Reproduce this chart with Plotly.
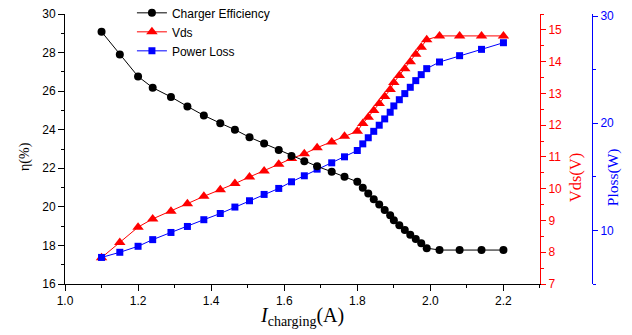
import plotly.graph_objects as go

current = [1.1, 1.15, 1.2, 1.24, 1.29, 1.335, 1.38, 1.425, 1.465, 1.505, 1.545, 1.585,
           1.62, 1.655, 1.69, 1.73, 1.765, 1.8,
           1.815, 1.83, 1.845, 1.86, 1.875, 1.89, 1.9, 1.915, 1.93, 1.945, 1.96, 1.975, 1.99,
           2.025, 2.08, 2.14, 2.2]
efficiency = [29.08, 27.9, 26.76, 26.18, 25.7, 25.21, 24.74, 24.34, 24.0, 23.61, 23.28, 22.95,
              22.64, 22.36, 22.1, 21.82, 21.56, 21.30,
              20.99, 20.69, 20.40, 20.12, 19.84, 19.57, 19.31, 19.05, 18.80, 18.56, 18.33, 18.11, 17.86,
              17.76, 17.76, 17.76, 17.76]
vds = [7.83, 8.31, 8.79, 9.05, 9.29, 9.53, 9.76, 9.97, 10.16, 10.37, 10.56, 10.77,
       10.95, 11.10, 11.29, 11.47, 11.65, 11.81,
       12.05, 12.25, 12.46, 12.68, 12.90, 13.12, 13.34, 13.56, 13.78, 14.0, 14.23, 14.45, 14.69,
       14.81, 14.81, 14.81, 14.81]
ploss = [7.48, 7.96, 8.52, 9.14, 9.81, 10.37, 11.0, 11.58, 12.18, 12.77, 13.36, 13.92,
         14.54, 15.1, 15.72, 16.31, 16.87, 17.46,
         18.08, 18.65, 19.25, 19.82, 20.41, 21.03, 21.62, 22.2, 22.77, 23.36, 23.98, 24.54, 25.1,
         25.72, 26.31, 26.9, 27.52]

SANS = "Liberation Sans, Arial, sans-serif"
SERIF = "Liberation Serif, Times New Roman, serif"

fig = go.Figure()
fig.add_trace(go.Scatter(x=current, y=efficiency, name="Charger Efficiency", yaxis="y3",
                         mode="lines+markers", line=dict(color="black", width=1),
                         marker=dict(symbol="circle", size=8, color="black")))
fig.add_trace(go.Scatter(x=current, y=vds, name="Vds", yaxis="y",
                         mode="lines+markers", line=dict(color="#ff0000", width=1),
                         marker=dict(symbol="triangle-up", size=10, color="#ff0000")))
fig.add_trace(go.Scatter(x=current, y=ploss, name="Power Loss", yaxis="y2",
                         mode="lines+markers", line=dict(color="#0000ff", width=1),
                         marker=dict(symbol="square", size=7, color="#0000ff")))

fig.update_layout(
    width=632, height=335,
    margin=dict(l=65, r=40, t=14, b=51, autoexpand=False),
    paper_bgcolor="white", plot_bgcolor="white",
    font=dict(family=SANS, size=12, color="black"),
    showlegend=True,
    legend=dict(x=0.127, y=1.058, xanchor="left", yanchor="top",
                bgcolor="rgba(0,0,0,0)", font=dict(family=SANS, size=12),
                tracegroupgap=0),
    xaxis=dict(domain=[0, 0.9013], range=[1.0, 2.3], tick0=1.0, dtick=0.2, tickformat=".1f",
               ticks="outside", ticklen=6, tickcolor="black", showline=True, linecolor="black",
               linewidth=1, showgrid=False, zeroline=False, anchor="y",
               tickfont=dict(family=SANS, size=12, color="black"),
               minor=dict(dtick=0.1, ticks="outside", ticklen=3, tickcolor="black", showgrid=False)),
    yaxis=dict(range=[7, 15.5], side="right", anchor="x", tick0=7, dtick=1,
               ticks="outside", ticklen=5, tickcolor="#ff0000", showline=True, linecolor="#ff0000",
               linewidth=1, showgrid=False, zeroline=False,
               tickfont=dict(family=SANS, size=12, color="#ff0000"),
               minor=dict(dtick=0.5, ticks="outside", ticklen=3, tickcolor="#ff0000", showgrid=False)),
    yaxis2=dict(range=[5, 30.2], side="right", overlaying="y", anchor="free", position=1.0,
                tick0=10, dtick=10, ticks="outside", ticklen=5, tickcolor="#0000ff",
                showline=True, linecolor="#0000ff", linewidth=1, showgrid=False, zeroline=False,
                tickfont=dict(family=SANS, size=12, color="#0000ff"),
                minor=dict(dtick=5, ticks="outside", ticklen=3, tickcolor="#0000ff", showgrid=False)),
    yaxis3=dict(range=[16, 30], side="left", overlaying="y", anchor="x", tick0=16, dtick=2,
                ticks="outside", ticklen=6, tickcolor="black", showline=True, linecolor="black",
                linewidth=1, showgrid=False, zeroline=False,
                tickfont=dict(family=SANS, size=12, color="black"),
                minor=dict(dtick=1, ticks="outside", ticklen=3, tickcolor="black", showgrid=False)),
)

annotations = [
    dict(text="η(%)", x=-0.076, y=0.474, textangle=-90, font=dict(family=SERIF, size=14, color="black")),
    dict(text="Vds(V)", x=0.968, y=0.396, textangle=-90, font=dict(family=SERIF, size=16.5, color="#ff0000")),
    dict(text="Ploss(W)", x=1.040, y=0.396, textangle=-90, font=dict(family=SERIF, size=15.5, color="#0000ff")),
    dict(text="<i>I</i><sub>charging</sub>(A)", x=0.449, y=-0.12,
         font=dict(family=SERIF, size=20, color="black")),
]
for a in annotations:
    fig.add_annotation(xref="paper", yref="paper", showarrow=False,
                       xanchor="center", yanchor="middle", **a)

fig.write_html("out.html")
